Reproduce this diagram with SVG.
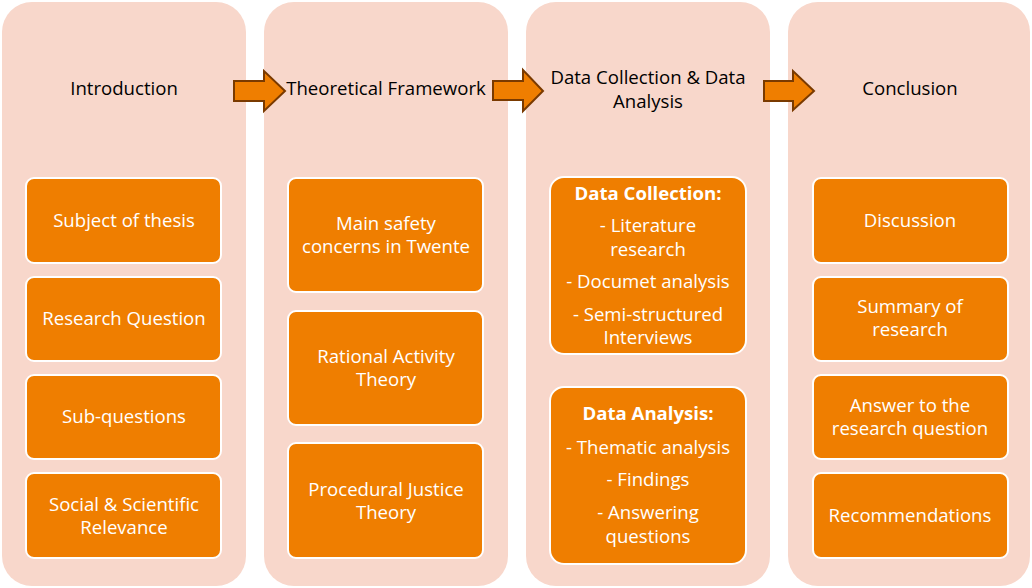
<svg xmlns="http://www.w3.org/2000/svg" width="1032" height="588" viewBox="0 0 1032 588">
<style>
.panel{fill:#F8D7CB}
.box{fill:#EF7E00;stroke:#FFFFFF;stroke-width:2}
.title{font-family:"Open Sans","Liberation Sans",sans-serif;font-size:18.6px;fill:#000;text-anchor:middle}
.t{font-family:"Open Sans","Liberation Sans",sans-serif;font-size:18.6px;fill:#FFFFFF;text-anchor:middle}
.b{font-weight:bold}
.arrow{fill:#EF7E00;stroke:#7A3A00;stroke-width:2;stroke-linejoin:miter}
</style>
<rect width="1032" height="588" fill="#FFFFFF"/>
<g id="introduction">
<rect class="panel" x="2" y="2" width="244" height="584" rx="30"/>
<text class="title" x="124" y="95">Introduction</text>
<rect class="box" x="26" y="178" width="195" height="85" rx="8"/>
<text class="t" x="124" y="227">Subject of thesis</text>
<rect class="box" x="26" y="277" width="195" height="84" rx="8"/>
<text class="t" x="124" y="325">Research Question</text>
<rect class="box" x="26" y="375" width="195" height="84" rx="8"/>
<text class="t" x="124" y="423">Sub-questions</text>
<rect class="box" x="26" y="473" width="195" height="85" rx="8"/>
<text class="t" x="124" y="511">Social &amp; Scientific</text>
<text class="t" x="124" y="534">Relevance</text>
</g>
<g id="theoretical-framework">
<rect class="panel" x="264" y="2" width="244" height="584" rx="30"/>
<text class="title" x="386" y="95">Theoretical Framework</text>
<rect class="box" x="288" y="178" width="195" height="114" rx="8"/>
<text class="t" x="386" y="230">Main safety</text>
<text class="t" x="386" y="253">concerns in Twente</text>
<rect class="box" x="288" y="311" width="195" height="114" rx="8"/>
<text class="t" x="386" y="363">Rational Activity</text>
<text class="t" x="386" y="386">Theory</text>
<rect class="box" x="288" y="443" width="195" height="115" rx="8"/>
<text class="t" x="386" y="496">Procedural Justice</text>
<text class="t" x="386" y="519">Theory</text>
</g>
<g id="data">
<rect class="panel" x="526" y="2" width="244" height="584" rx="30"/>
<text class="title" x="648" y="84">Data Collection &amp; Data</text>
<text class="title" x="648" y="108">Analysis</text>
<rect class="box" x="550" y="177" width="196" height="177" rx="14"/>
<text class="t b" x="648" y="200">Data Collection:</text>
<text class="t" x="648" y="232">- Literature</text>
<text class="t" x="648" y="256">research</text>
<text class="t" x="648" y="288">- Documet analysis</text>
<text class="t" x="648" y="321">- Semi-structured</text>
<text class="t" x="648" y="344">Interviews</text>
<rect class="box" x="550" y="387" width="196" height="177" rx="14"/>
<text class="t b" x="648" y="420">Data Analysis:</text>
<text class="t" x="648" y="454">- Thematic analysis</text>
<text class="t" x="648" y="486">- Findings</text>
<text class="t" x="648" y="519">- Answering</text>
<text class="t" x="648" y="543">questions</text>
</g>
<g id="conclusion">
<rect class="panel" x="788" y="2" width="242" height="584" rx="30"/>
<text class="title" x="910" y="95">Conclusion</text>
<rect class="box" x="813" y="178" width="195" height="85" rx="8"/>
<text class="t" x="910" y="227">Discussion</text>
<rect class="box" x="813" y="277" width="195" height="84" rx="8"/>
<text class="t" x="910" y="313">Summary of</text>
<text class="t" x="910" y="336">research</text>
<rect class="box" x="813" y="375" width="195" height="84" rx="8"/>
<text class="t" x="910" y="412">Answer to the</text>
<text class="t" x="910" y="435">research question</text>
<rect class="box" x="813" y="473" width="195" height="85" rx="8"/>
<text class="t" x="910" y="522">Recommendations</text>
</g>
<g id="connectors">
<polygon class="arrow" points="234,81 264,81 264,71 285,91 264,111 264,101 234,101"/>
<polygon class="arrow" points="493,81 523,81 523,70 543,91 523,111 523,100 493,100"/>
<polygon class="arrow" points="764,81 793,81 793,71 814,91 793,110 793,101 764,101"/>
</g>
</svg>
